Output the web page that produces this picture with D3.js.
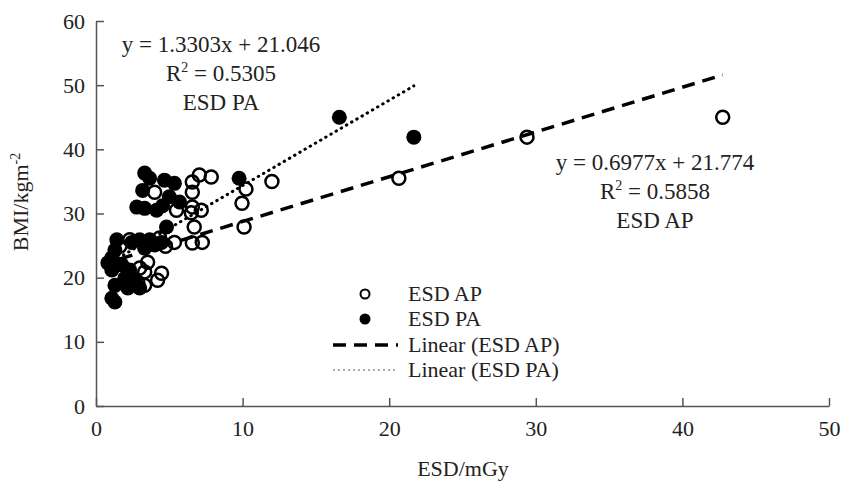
<!DOCTYPE html>
<html>
<head>
<meta charset="utf-8">
<script src="https://cdn.jsdelivr.net/npm/d3@7"></script>
<style>
  body { margin: 0; background: #fff; }
  text { font-family: "Liberation Serif", "Times New Roman", serif; fill: #222; }
</style>
</head>
<body>
<div id="chart"></div>
<script>
// ESD AP (open circles)
const apX = [42.75, 29.4, 20.66, 12.0, 10.23, 9.96, 10.1, 7.86, 7.05, 6.57, 6.57, 6.57, 7.18, 5.49, 6.5, 4.0,
  6.7, 5.35, 6.57, 7.25, 4.47, 3.32, 3.32, 4.2, 3.52, 2.3, 1.63, 4.34, 2.98, 2.85, 4.74];
const apY = [45.0, 41.9, 35.5, 35.0, 33.8, 31.6, 27.9, 35.7, 36.0, 34.9, 33.3, 31.0, 30.5, 30.5, 30.1, 33.3,
  27.9, 25.5, 25.4, 25.5, 20.7, 20.9, 18.8, 19.6, 22.4, 25.9, 24.9, 26.2, 21.5, 19.3, 24.9];
// ESD PA (filled circles)
const paX = [16.6, 21.68, 9.76, 3.32, 3.66, 3.18, 2.78, 3.32, 4.13, 4.54, 4.67, 5.35, 5.0, 5.7, 4.81, 4.47,
  3.66, 2.98, 2.44, 3.32, 4.0, 1.42, 1.29, 1.08, 0.81, 1.08, 1.76, 2.3, 1.96, 2.64, 1.29, 2.17, 2.98, 1.29, 1.08];
const paY = [45.0, 41.9, 35.5, 36.3, 35.5, 33.6, 31.0, 30.8, 30.5, 31.2, 35.2, 34.7, 32.6, 31.8, 27.9, 25.5,
  25.9, 25.9, 25.5, 24.6, 25.1, 25.9, 24.3, 23.1, 22.3, 21.2, 22.0, 21.2, 19.9, 19.6, 18.8, 18.4, 18.4, 16.2, 16.8];

// trendlines (slope, intercept)
const apFit = [0.6977, 21.774];
const paFit = [1.3303, 21.046];
const apLabel = ["y = 0.6977x + 21.774", "0.5858", "ESD AP"];
const paLabel = ["y = 1.3303x + 21.046", "0.5305", "ESD PA"];

const xTicks = [0, 10, 20, 30, 40, 50];
const yTicks = [0, 10, 20, 30, 40, 50, 60];
const legendNames = ["ESD AP", "ESD PA", "Linear (ESD AP)", "Linear (ESD PA)"];

const width = 843, height = 482;
const svg = d3.select("#chart").append("svg")
  .attr("width", width)
  .attr("height", height);

const x = d3.scaleLinear().domain([0, 50]).range([96, 829]);
const y = d3.scaleLinear().domain([0, 60]).range([406, 21]);

// axes
const xAxis = svg.append("g")
  .attr("transform", "translate(0," + y(0) + ")")
  .call(d3.axisBottom(x).tickValues(xTicks).tickSizeInner(-8).tickSizeOuter(0).tickPadding(14));
const yAxis = svg.append("g")
  .attr("transform", "translate(" + x(0) + ",0)")
  .call(d3.axisLeft(y).tickValues(yTicks).tickSizeInner(-8).tickSizeOuter(0).tickPadding(11));

[xAxis, yAxis].forEach(function (g) {
  g.select(".domain").attr("stroke", "#555").attr("stroke-width", 1.5);
  g.selectAll(".tick line").attr("stroke", "#555").attr("stroke-width", 1.5);
  g.selectAll(".tick text")
    .style("font-family", "'Liberation Serif', serif")
    .style("font-size", "22px")
    .attr("fill", "#222");
});

// axis titles
svg.append("text")
  .attr("x", 463).attr("y", 476)
  .attr("text-anchor", "middle")
  .style("font-size", "22px")
  .text("ESD/mGy");

const yTitle = svg.append("text")
  .attr("transform", "translate(28,202) rotate(-90)")
  .attr("text-anchor", "middle")
  .style("font-size", "22px");
yTitle.append("tspan").text("BMI/kgm");
yTitle.append("tspan").attr("dy", -8).style("font-size", "14px").text("-2");

// trendlines
function fitLine(xs, fit) {
  const lo = d3.min(xs), hi = d3.max(xs);
  return [[lo, fit[0] * lo + fit[1]], [hi, fit[0] * hi + fit[1]]];
}
const line = d3.line().x(function (d) { return x(d[0]); }).y(function (d) { return y(d[1]); });

// points
svg.append("g")
  .selectAll("circle")
  .data(d3.zip(apX, apY)).enter()
  .append("circle")
  .attr("cx", function (d) { return x(d[0]); })
  .attr("cy", function (d) { return y(d[1]); })
  .attr("r", 6.5)
  .attr("fill", "none")
  .attr("stroke", "#000")
  .attr("stroke-width", 2.5);

svg.append("g")
  .selectAll("circle")
  .data(d3.zip(paX, paY)).enter()
  .append("circle")
  .attr("cx", function (d) { return x(d[0]); })
  .attr("cy", function (d) { return y(d[1]); })
  .attr("r", 7.5)
  .attr("fill", "#000");

svg.append("path")
  .attr("d", line(fitLine(apX, apFit)))
  .attr("fill", "none")
  .attr("stroke", "#000")
  .attr("stroke-width", 3.5)
  .attr("stroke-dasharray", "13,8");

svg.append("path")
  .attr("d", line(fitLine(paX, paFit)))
  .attr("fill", "none")
  .attr("stroke", "#000")
  .attr("stroke-width", 3)
  .attr("stroke-linecap", "round")
  .attr("stroke-dasharray", "0.5,5.5");

// equation labels
function eqLabel(cx, top, lab) {
  const g = svg.append("g").style("font-size", "23px");
  g.append("text").attr("x", cx).attr("y", top).attr("text-anchor", "middle").text(lab[0]);
  const r = g.append("text").attr("x", cx).attr("y", top + 29).attr("text-anchor", "middle");
  r.append("tspan").text("R");
  r.append("tspan").attr("dy", -9).style("font-size", "14px").text("2");
  r.append("tspan").attr("dy", 9).text(" = " + lab[1]);
  g.append("text").attr("x", cx).attr("y", top + 58).attr("text-anchor", "middle").text(lab[2]);
}
eqLabel(221, 52, paLabel);
eqLabel(655, 170, apLabel);

// legend
const leg = svg.append("g");
const legY = [294, 319, 345, 370];
leg.append("circle").attr("cx", 365).attr("cy", legY[0]).attr("r", 4.5)
  .attr("fill", "none").attr("stroke", "#000").attr("stroke-width", 2);
leg.append("circle").attr("cx", 365).attr("cy", legY[1]).attr("r", 5.5).attr("fill", "#000");
leg.append("line").attr("x1", 333).attr("x2", 398).attr("y1", legY[2]).attr("y2", legY[2])
  .attr("stroke", "#000").attr("stroke-width", 3.5).attr("stroke-dasharray", "13,8");
leg.append("line").attr("x1", 333).attr("x2", 398).attr("y1", legY[3]).attr("y2", legY[3])
  .attr("stroke", "#aaa").attr("stroke-width", 2).attr("stroke-dasharray", "2,3");
leg.selectAll("text.lab")
  .data(legendNames).enter()
  .append("text")
  .attr("class", "lab")
  .attr("x", 408)
  .attr("y", function (d, i) { return legY[i] + 7; })
  .style("font-size", "22px")
  .text(function (d) { return d; });
</script>
</body>
</html>
